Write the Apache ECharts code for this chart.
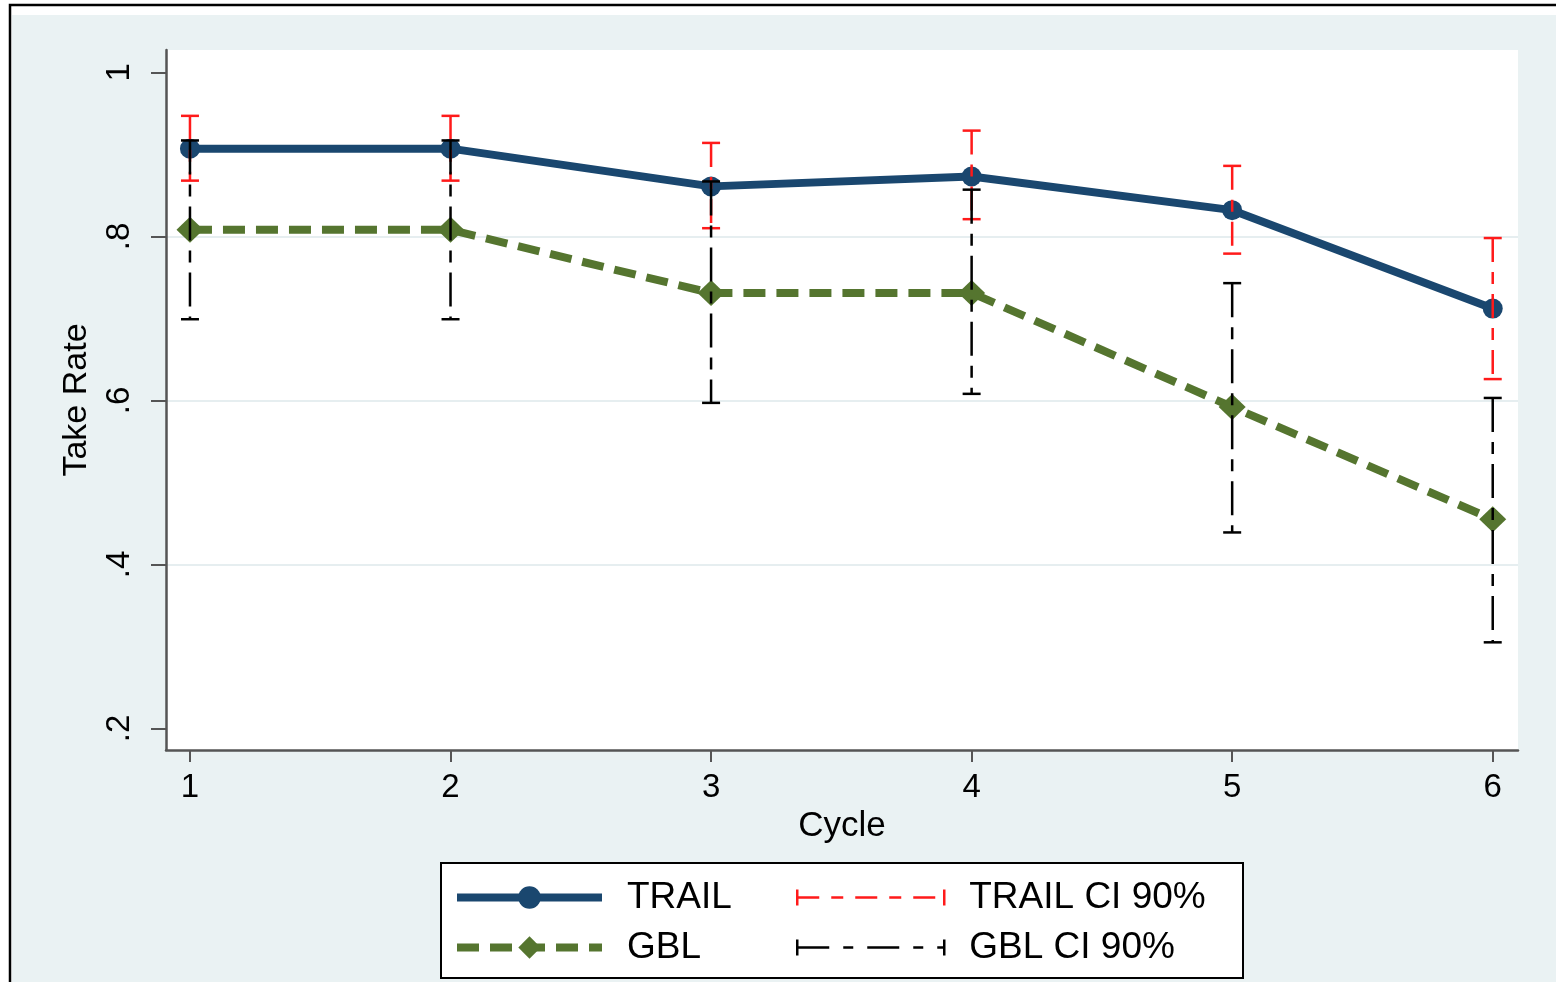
<!DOCTYPE html>
<html>
<head>
<meta charset="utf-8">
<script src="https://cdn.jsdelivr.net/npm/echarts@6/dist/echarts.min.js"></script>
<style>
html,body{margin:0;padding:0;background:#ffffff;}
#chart{width:1556px;height:982px;}
</style>
</head>
<body>
<div id="chart"></div>
<script>
// ---- data ----
const cycles     = [1, 2, 3, 4, 5, 6];
const trail      = [0.907, 0.907, 0.861, 0.873, 0.832, 0.712];
const trailLow   = [0.868, 0.868, 0.810, 0.821, 0.779, 0.626];
const trailHigh  = [0.947, 0.947, 0.914, 0.929, 0.886, 0.798];
const gbl        = [0.808, 0.808, 0.731, 0.731, 0.592, 0.455];
const gblLow     = [0.699, 0.699, 0.597, 0.608, 0.439, 0.305];
const gblHigh    = [0.917, 0.917, 0.867, 0.857, 0.743, 0.603];
const xTicks     = [1, 2, 3, 4, 5, 6];
const yTicks     = [0.2, 0.4, 0.6, 0.8, 1];
const yTickLabels = ['.2', '.4', '.6', '.8', '1'];
const seriesNames = ['TRAIL', 'GBL', 'TRAIL CI 90%', 'GBL CI 90%'];

// ---- styles ----
const FONT = '"Liberation Sans", Arial, Helvetica, sans-serif';
const NAVY = '#1a476f';
const GREEN = '#55752f';
const RED = '#ff1a1a';
const BLACK = '#000000';
const AXIS = '#555555';

function errorBar(color, dash) {
  return function (params, api) {
    const x = api.value(0), lo = api.value(1), hi = api.value(2);
    const pHi = api.coord([x, hi]);
    const pLo = api.coord([x, lo]);
    const hw = 9;
    return {
      type: 'group',
      children: [
        { type: 'line', shape: { x1: pHi[0], y1: pHi[1], x2: pLo[0], y2: pLo[1] },
          style: { stroke: color, lineWidth: 2.5, lineDash: dash } },
        { type: 'line', shape: { x1: pHi[0] - hw, y1: pHi[1], x2: pHi[0] + hw, y2: pHi[1] },
          style: { stroke: color, lineWidth: 2.5 } },
        { type: 'line', shape: { x1: pLo[0] - hw, y1: pLo[1], x2: pLo[0] + hw, y2: pLo[1] },
          style: { stroke: color, lineWidth: 2.5 } }
      ]
    };
  };
}

const chart = echarts.init(document.getElementById('chart'));
const option = {
  animation: false,
  backgroundColor: '#ffffff',
  textStyle: { fontFamily: FONT },
  graphic: [
    { type: 'rect', z: -10, silent: true, shape: { x: 10, y: 5, width: 1600, height: 1000 },
      style: { fill: '#ffffff', stroke: '#000000', lineWidth: 2.5 } },
    { type: 'rect', z: -9, silent: true, shape: { x: 12, y: 15, width: 1600, height: 1000 },
      style: { fill: '#eaf2f3' } },
    { type: 'rect', z: -8, silent: true, shape: { x: 441, y: 863, width: 802, height: 115 },
      style: { fill: '#ffffff', stroke: '#000000', lineWidth: 2 } }
  ],
  grid: {
    left: 166, right: 38, top: 50, bottom: 232,
    show: true, backgroundColor: '#ffffff', borderWidth: 0
  },
  xAxis: {
    type: 'value',
    min: 0.908, max: 6.097,
    name: 'Cycle',
    nameLocation: 'middle',
    nameGap: 57,
    nameTextStyle: { fontSize: 35, color: '#000', fontFamily: FONT },
    axisLine: { show: true, onZero: false, lineStyle: { color: AXIS, width: 2.5 } },
    axisTick: { show: true, length: 12, customValues: xTicks, lineStyle: { color: AXIS, width: 2 } },
    axisLabel: { customValues: xTicks, fontSize: 33, color: '#000', margin: 21, fontFamily: FONT },
    splitLine: { show: false }
  },
  yAxis: {
    type: 'value',
    min: 0.1737, max: 1.0273,
    name: 'Take Rate',
    nameLocation: 'middle',
    nameRotate: 90,
    nameGap: 72,
    nameTextStyle: { fontSize: 34, color: '#000', fontFamily: FONT },
    axisLine: { show: true, onZero: false, lineStyle: { color: AXIS, width: 2.5 } },
    axisTick: { show: true, length: 15, customValues: yTicks, lineStyle: { color: AXIS, width: 2 } },
    axisLabel: {
      customValues: yTicks, rotate: 90, fontSize: 33, color: '#000', margin: 30, fontFamily: FONT,
      formatter: function (v) {
        const i = yTicks.findIndex(t => Math.abs(t - v) < 1e-6);
        return i >= 0 ? yTickLabels[i] : '';
      }
    },
    splitLine: { show: true, showMinLine: false, showMaxLine: false, lineStyle: { color: '#e6eef0', width: 2 } }
  },
  legend: [
    {
      orient: 'vertical', left: 453, top: 879, padding: 0,
      itemWidth: 145, itemHeight: 28, itemGap: 13,
      selectedMode: false,
      lineStyle: { width: 8 },
      textStyle: { fontSize: 37, color: '#000', fontFamily: FONT, padding: [0, 0, 0, 20] },
      data: [seriesNames[0], seriesNames[1]]
    },
    {
      orient: 'vertical', left: 796, top: 879, padding: 0,
      itemWidth: 147, itemHeight: 16, itemGap: 13,
      selectedMode: false,
      textStyle: { fontSize: 37, color: '#000', fontFamily: FONT, padding: [0, 0, 0, 20] },
      data: [
        { name: seriesNames[2], icon: 'path://M0,0L0,16M0,8L147,8M147,0L147,16',
          itemStyle: { color: 'rgba(0,0,0,0)', borderColor: RED, borderWidth: 2.5, borderType: [22, 12, 12, 12] } },
        { name: seriesNames[3], icon: 'path://M0,0L0,16M0,8L147,8M147,0L147,16',
          itemStyle: { color: 'rgba(0,0,0,0)', borderColor: BLACK, borderWidth: 2.5, borderType: [32, 14, 10, 14] } }
      ]
    }
  ],
  series: [
    {
      name: seriesNames[0], type: 'line', z: 2,
      data: cycles.map((c, i) => [c, trail[i]]),
      symbol: 'circle', symbolSize: 20,
      lineStyle: { color: NAVY, width: 8, join: 'round' },
      itemStyle: { color: NAVY }
    },
    {
      name: seriesNames[1], type: 'line', z: 2,
      data: cycles.map((c, i) => [c, gbl[i]]),
      symbol: 'diamond', symbolSize: [27, 26],
      lineStyle: { color: GREEN, width: 8, type: [22, 11] },
      itemStyle: { color: GREEN }
    },
    {
      name: seriesNames[2], type: 'custom', z: 3,
      renderItem: errorBar(RED, [24, 10, 12, 10]),
      encode: { x: 0, y: [1, 2] },
      itemStyle: { color: RED },
      data: cycles.map((c, i) => [c, trailLow[i], trailHigh[i]])
    },
    {
      name: seriesNames[3], type: 'custom', z: 4,
      renderItem: errorBar(BLACK, [34, 10, 12, 10]),
      encode: { x: 0, y: [1, 2] },
      itemStyle: { color: BLACK },
      data: cycles.map((c, i) => [c, gblLow[i], gblHigh[i]])
    }
  ]
};
chart.setOption(option);
</script>
</body>
</html>
